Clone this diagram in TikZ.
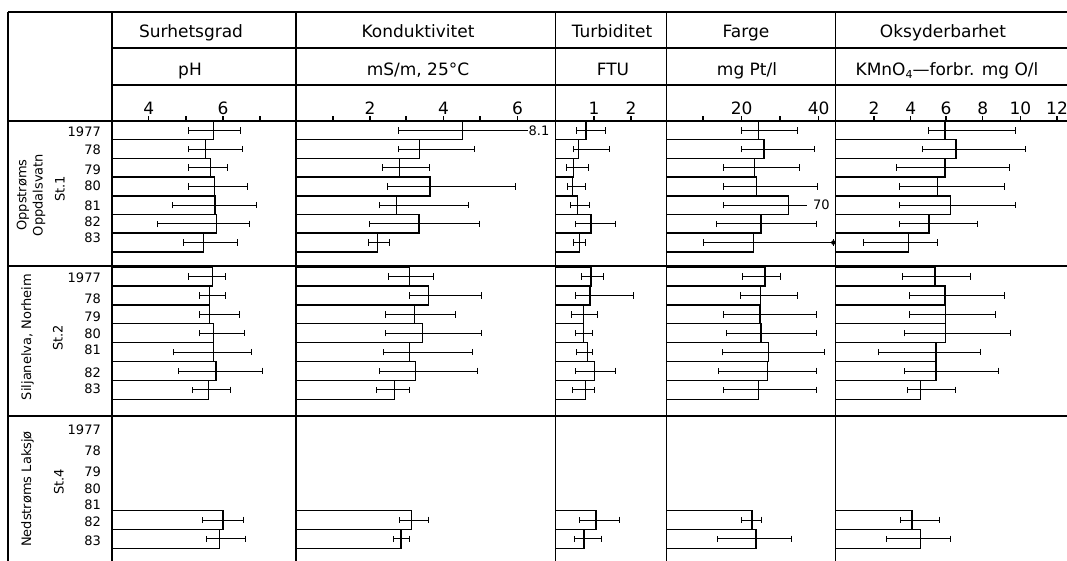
\documentclass[tikz,border=0pt]{standalone}
\usepackage{fontspec}
\setmainfont{DejaVu Sans}
\usetikzlibrary{arrows.meta}
\tikzset{
 frame/.style={line width=1.2pt},
 barline/.style={line width=1.5pt},
 errbar/.style={line width=0.8pt},
 capped/.style={errbar,{Bar[width=6.5pt,line width=0.8pt]}-{Bar[width=6.5pt,line width=0.8pt]}},
 lcapped/.style={errbar,{Bar[width=6.5pt,line width=0.8pt]}-},
 tickline/.style={line width=1.1pt},
 head/.style={font=\fontsize{17}{20}\selectfont, anchor=base, inner sep=0pt},
 axnum/.style={font=\fontsize{17}{20}\selectfont, anchor=base, inner sep=0pt},
 yr/.style={font=\fontsize{13}{15}\selectfont, anchor=base east, inner sep=0pt},
 sect/.style={font=\fontsize{13}{15}\selectfont, rotate=90, inner sep=0pt},
 note/.style={font=\fontsize{13}{15}\selectfont, anchor=west, inner sep=0pt},
}
\newcommand{\drawrows}[4]{%
  \foreach \k/\r/\a/\b in {#4}{
    \pgfmathsetmacro{\yt}{#2+\k*#3}
    \pgfmathsetmacro{\yb}{\yt+#3}
    \pgfmathsetmacro{\ym}{\yt+#3/2}
    \draw[barline] (#1,\yt) rectangle (\r,\yb);
    \draw[capped] (\a,\ym) -- (\b,\ym);
  }}
\begin{document}
\begin{tikzpicture}[x=1pt,y=-1pt]
\useasboundingbox (0,0) rectangle (1067,561);
% ---------------- frame
\draw[frame] (8,12) -- (1067,12);
\draw[frame] (112,48) -- (1067,48);
\draw[frame] (112,85) -- (1067,85);
\draw[frame] (8,121) -- (1067,121);
\draw[frame] (8,266) -- (1067,266);
\draw[frame] (8,416) -- (1067,416);
\foreach \x in {8,112,296,555.5,666.5,835.5}
  \draw[frame] (\x,12) -- (\x,561);
% ---------------- header texts
\node[head] (h1) at (191,38) {Surhetsgrad};
\node[head] (h2) at (418,38) {Konduktivitet};
\node[head] (h3) at (612,38) {Turbiditet};
\node[head] (h4) at (746,38) {Farge};
\node[head] (h5) at (943,38) {Oksyderbarhet};
\node[head] (u1) at (190,76) {pH};
\node[head] (u2) at (418,76) {mS/m, 25°C};
\node[head] (u3) at (613,76) {FTU};
\node[head] (u4) at (747,76) {mg Pt/l};
\node[head] (u5) at (947,76) {KMnO\raisebox{-0.3ex}{\fontsize{11}{12}\selectfont 4}—forbr. mg O/l};
% ---------------- axis ticks
\foreach \x in {148.8,186,223,260,333,370,406,443.5,480,517.6,594,631,703,741.6,780,818.7,874,910.8,946,982.7,1020.4,1057}
  \draw[tickline] (\x,121) -- (\x,116);
\foreach \x/\t [count=\i] in {148.8/4,223/6,370/2,443.5/4,517.6/6,594/1,631/2,741.6/20,818.7/40,874/2,910.8/4,946/6,982.7/8,1020.4/10,1057/12}
  \node[axnum] (ax\i) at (\x,115) {\t};
% ---------------- year labels
\foreach \t/\y [count=\i] in {1977/131.7,78/150,79/169.5,80/185.5,81/206,82/222,83/238}
  \node[yr] (ya\i) at (101,{\y+4.7}) {\t};
\foreach \t/\y [count=\i] in {1977/277.7,78/298.3,79/316.7,80/334,81/350,82/372.3,83/388.3}
  \node[yr] (yb\i) at (101,{\y+4.7}) {\t};
\foreach \t/\y [count=\i] in {1977/430,78/451,79/471.6,80/489,81/505,82/522,83/540.5}
  \node[yr] (yc\i) at (101,{\y+4.7}) {\t};
% ---------------- station labels
\node[sect] (s1a) at (23,195) {Oppstrøms};
\node[sect] (s1b) at (39,195) {Oppdalsvatn};
\node[sect] (s1c) at (60,189) {St.1};
\node[sect] (s2a) at (27.5,337) {Siljanelva, Norheim};
\node[sect] (s2c) at (58,338) {St.2};
\node[sect] (s3a) at (27.5,489) {Nedstrøms Laksjø};
\node[sect] (s3c) at (59,482) {St.4};
% ================= section 1 (top 121, h 18.7)
\drawrows{112}{121}{18.7}{0/213.3/188.3/240.7,1/205.7/188.3/242.7,2/210.7/188.3/227.7,3/214.3/188.3/247.3,4/215/171.7/256.7,5/216.7/157.3/250,6/203.3/182.7/237.7}
\drawrows{296}{121}{18.7}{1/419.3/398.3/475,2/399.3/381.7/430,3/430/387.3/516,4/396.7/379.3/468.3,5/419/368.7/480,6/377.3/367.7/390}
\draw[barline] (296,121) rectangle (462.3,139.7);
\draw[lcapped] (398.3,130.35) -- (528,130.35);
\node[note] (n81) at (528.5,130.35) {8.1};
\drawrows{555.5}{121}{18.7}{0/586/576/606,1/578.3/572.7/610,2/573.3/566/588.3,3/572.7/566.7/586,4/577.7/570/590,5/591/575/616,6/579.3/572.7/585.3}
\drawrows{666.5}{121}{18.7}{0/758.3/741/797.3,1/764/741/814.3,2/754.3/723.3/799.3,3/756.7/723.3/817.3,5/761/716/816.7,6/753.3/703.3/833.3}
\draw[barline] (666.5,195.8) rectangle (788.3,214.5);
\draw[lcapped] (723.3,205.15) -- (807.3,205.15);
\node[note] (n70) at (813,205.15) {70};
\fill (833.3,242.55) circle (2.2pt);
\drawrows{835.5}{121}{18.7}{0/945/927.7/1016,1/956/921.7/1025.7,2/945/896/1010,3/937.3/899.3/1004.3,4/950.7/899.3/1016,5/929/899.3/977.3,6/908.3/863.3/937.7}
% ================= section 2 (top 267, h 18.9)
\drawrows{112}{267}{18.9}{0/212.7/188.3/226,1/209.3/199/226,2/209.3/199/240,3/213.3/199.3/244.3,4/213.3/173.3/251.7,5/216/177.7/262.7,6/208.3/192.3/230.7}
\drawrows{296}{267}{18.9}{0/409.3/387.7/434,1/428.3/409/481.7,2/414.3/385/455.7,3/422.7/385/481.7,4/409.3/383.3/472.7,5/415.7/378.7/477.7,6/394.3/376/409.3}
\drawrows{555.5}{267}{18.9}{0/591/581/604,1/590/575/633.3,2/583.3/571/597.3,3/583.3/575/592.3,4/587.7/575.7/592.3,5/594.3/575/615.7,6/585.7/571.7/595}
\drawrows{666.5}{267}{18.9}{0/765/742.3/781,1/760.7/740/797.3,2/760/723.3/816.7,3/761/725.7/816.7,4/768.3/721.7/825,5/767.7/718.3/816.7,6/758.3/723.3/816.7}
\drawrows{835.5}{267}{18.9}{0/935/901.7/971,1/945/909/1005,2/945.7/909/995.7,3/945.7/904/1010.7,4/936/878.3/980.7,5/936/904/999,6/920.7/906.7/956}
% ================= section 3 (top 416, h 18.9)
\drawrows{112}{416}{18.9}{5/223/202/243.5,6/219.7/205.6/245.5}
\drawrows{296}{416}{18.9}{5/411.5/398.8/428.7,6/401.2/393.2/409.8}
\drawrows{555.5}{416}{18.9}{5/596/579/619.7,6/584/573.8/602}
\drawrows{666.5}{416}{18.9}{5/752/740.6/762,6/756/717.3/792}
\drawrows{835.5}{416}{18.9}{5/911.8/899.9/940,6/920.4/886/950.5}
\end{tikzpicture}
\end{document}
